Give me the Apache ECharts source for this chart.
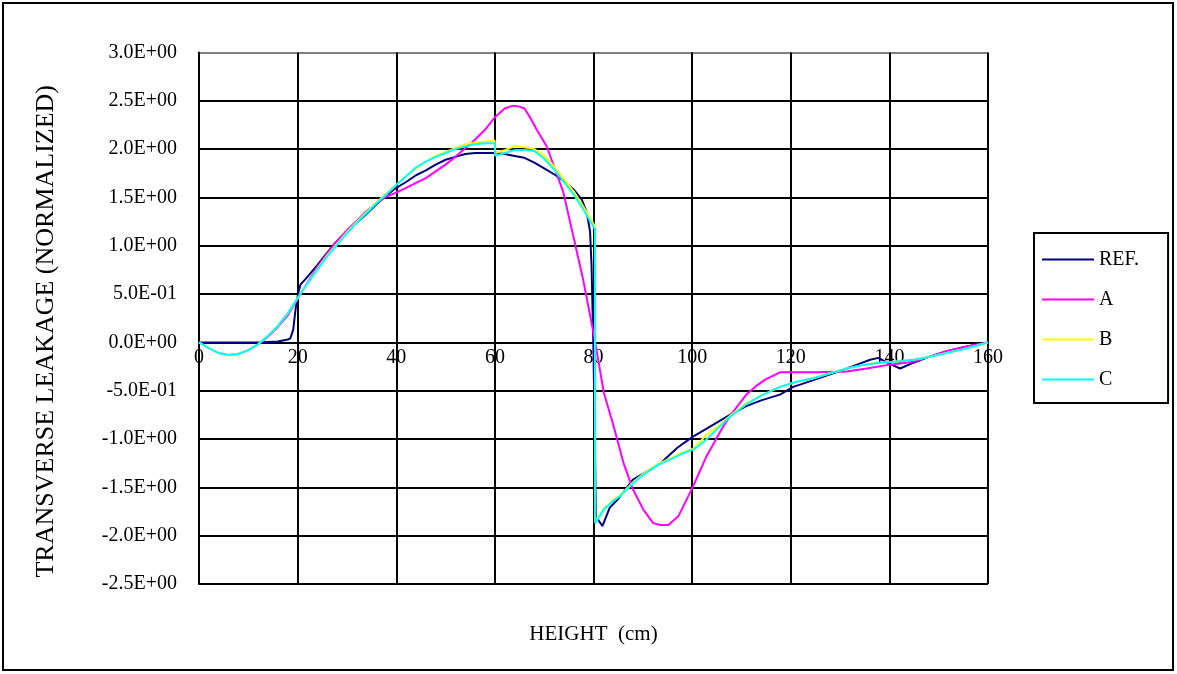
<!DOCTYPE html>
<html>
<head>
<meta charset="utf-8">
<script src="https://cdn.jsdelivr.net/npm/echarts@6/dist/echarts.min.js"></script>
<style>
  html, body { margin: 0; padding: 0; background: #fff; }
  #chart { width: 1177px; height: 674px; }
</style>
</head>
<body>
<div id="chart"></div>
<script>
// Transverse leakage profiles along the core height
const seriesNames = ['REF.', 'A', 'B', 'C'];
const xTicks = [0, 20, 40, 60, 80, 100, 120, 140, 160];
const yTicks = [-2.5, -2.0, -1.5, -1.0, -0.5, 0, 0.5, 1.0, 1.5, 2.0, 2.5, 3.0];

const refX = [0,4,8,12,16,17,18,18.5,19.1,19.6,20.1,20.6,21.5,24,26,28,30,32,34,36,38,40,42,44,46,48,50,52,54,56,58,60,62,64,66,68,70,72,74,76,77.6,78.6,79.3,79.6,80.0,80.5,81.8,83.3,85,88,90,93.6,97,100,102,105,108,111,114,117.8,120.5,124.6,128,131.4,134,136.1,137.8,139.5,142.2,144.9,148,151.6,155,158,160];
const refY = [0,0,0,0,0.01,0.02,0.03,0.04,0.13,0.35,0.51,0.60,0.65,0.80,0.93,1.05,1.15,1.24,1.33,1.43,1.52,1.60,1.66,1.73,1.78,1.84,1.89,1.92,1.95,1.96,1.96,1.96,1.95,1.93,1.91,1.86,1.80,1.74,1.67,1.58,1.48,1.35,1.15,0.8,-0.1,-1.8,-1.90,-1.71,-1.62,-1.42,-1.36,-1.25,-1.09,-0.98,-0.92,-0.83,-0.74,-0.66,-0.60,-0.54,-0.46,-0.39,-0.33,-0.27,-0.22,-0.18,-0.16,-0.21,-0.27,-0.21,-0.15,-0.09,-0.05,-0.02,0];

const aX = [0,2,4,6,8,10,12,14,16,18,20,22,24,26,28,30,32,34,36,38,40,42,44,46,48,50,52,54,56,58,60,62,63.7,65,66,67,68.5,70.5,72,73.9,75.9,77.9,80,82.1,84.1,86.1,88,90.1,92.1,93.5,95.2,97.2,100.2,102.9,106.3,108,111,113,115,117.8,120,125,131.4,135.4,140.1,144.9,148,151.6,155,158,160];
const aY = [0,-0.06,-0.11,-0.13,-0.12,-0.08,-0.02,0.06,0.16,0.28,0.45,0.62,0.78,0.92,1.05,1.16,1.26,1.36,1.44,1.51,1.55,1.60,1.65,1.70,1.77,1.84,1.92,2.01,2.10,2.20,2.33,2.42,2.45,2.44,2.42,2.34,2.20,2.03,1.82,1.55,1.10,0.65,0.10,-0.52,-0.87,-1.25,-1.52,-1.73,-1.87,-1.89,-1.89,-1.80,-1.49,-1.18,-0.87,-0.74,-0.54,-0.45,-0.38,-0.31,-0.31,-0.31,-0.30,-0.27,-0.23,-0.20,-0.15,-0.09,-0.05,-0.02,0];

const bX = [0,2,4,6,8,10,12,14,16,18,20,22,24,26,28,30,32,34,36,38,40,42,44,46,48,50,52,54,56,58,59.95,60.05,62,64,66,68,70,72,74,76,78,80.3,80.35,82.1,84,85.4,88,90.1,93,95.6,98,100.2,101.6,103,105,107.7,111,114,117.8,121,124.6,128,131.4,135,138.2,141,144.9,148,151.6,155,158,160];
const bY = [0,-0.06,-0.11,-0.13,-0.12,-0.08,-0.02,0.07,0.17,0.30,0.46,0.61,0.76,0.90,1.02,1.14,1.25,1.35,1.45,1.54,1.63,1.72,1.80,1.87,1.93,1.97,2.01,2.05,2.07,2.08,2.09,1.96,1.99,2.03,2.02,2.00,1.93,1.82,1.69,1.56,1.40,1.20,-1.85,-1.72,-1.63,-1.58,-1.45,-1.36,-1.26,-1.20,-1.14,-1.10,-1.03,-0.95,-0.88,-0.76,-0.63,-0.55,-0.46,-0.41,-0.37,-0.32,-0.27,-0.23,-0.21,-0.20,-0.18,-0.15,-0.11,-0.07,-0.03,0];

const cX = [0,2,4,6,8,10,12,14,16,18,20,22,24,26,28,30,32,34,36,38,40,42,44,46,48,50,52,54,56,58,59.95,60.05,62,64,66,68,70,72,74,76,78,80.3,80.35,82.1,84,85.4,88,90.1,93,95.6,98,100.2,101.6,103,105,107.7,111,114,117.8,121,124.6,128,131.4,135,138.2,141,144.9,148,151.6,155,158,160];
const cY = [0,-0.06,-0.11,-0.13,-0.12,-0.08,-0.02,0.07,0.17,0.30,0.46,0.61,0.75,0.89,1.01,1.13,1.24,1.34,1.44,1.53,1.63,1.72,1.81,1.87,1.92,1.96,2.00,2.03,2.05,2.06,2.06,1.93,1.96,1.99,1.99,1.98,1.90,1.79,1.66,1.53,1.37,1.17,-1.87,-1.73,-1.64,-1.59,-1.46,-1.37,-1.27,-1.21,-1.15,-1.11,-1.06,-1.00,-0.90,-0.77,-0.64,-0.55,-0.46,-0.41,-0.37,-0.32,-0.27,-0.23,-0.21,-0.20,-0.18,-0.15,-0.11,-0.07,-0.03,0];

const lineColors = ['#000080', '#FF00FF', '#FFFF00', '#00FFFF'];
const FONT = '"Liberation Serif", "Times New Roman", serif';

// plot rectangle in pixels
const PLOT_TOP = 52.5, PLOT_BOTTOM_GAP = 90, CANVAS_H = 674;

function pairs(xs, ys) { return xs.map((x, i) => [x, ys[i]]); }

// Excel-style scientific notation: 5.0E-01, 0.0E+00
function sci(v) {
  const s = Number(v).toExponential(1);
  const parts = s.split('e');
  const n = parseInt(parts[1], 10);
  return parts[0] + 'E' + (n < 0 ? '-' : '+') + String(Math.abs(n)).padStart(2, '0');
}

const seriesData = [pairs(refX, refY), pairs(aX, aY), pairs(bX, bY), pairs(cX, cY)];

// top border of the plot is a lighter grey line, the rest are black
const ySplitColors = yTicks.map((t, i) => i === yTicks.length - 1 ? '#808080' : '#000000');

// the horizontal axis sits on the zero line: shift it up from the bottom edge
const yMin = yTicks[0], yMax = yTicks[yTicks.length - 1];
const plotH = CANVAS_H - PLOT_TOP - PLOT_BOTTOM_GAP;
const zeroShift = -plotH * (0 - yMin) / (yMax - yMin);

const chart = echarts.init(document.getElementById('chart'), null, { renderer: 'canvas' });
chart.setOption({
  animation: false,
  backgroundColor: '#ffffff',
  textStyle: { fontFamily: FONT, color: '#000' },
  grid: { left: 199, top: PLOT_TOP, right: 189, bottom: PLOT_BOTTOM_GAP, containLabel: false, outerBoundsMode: 'none' },
  graphic: [{
    type: 'rect',
    shape: { x: 3, y: 3, width: 1170, height: 667 },
    style: { fill: 'none', stroke: '#000', lineWidth: 2 },
    silent: true
  }],
  legend: {
    orient: 'vertical',
    left: 1034,
    top: 233,
    data: seriesNames,
    icon: 'rect',
    itemWidth: 52,
    itemHeight: 2,
    itemGap: 19,
    padding: [16, 29, 13, 8],
    borderColor: '#000',
    borderWidth: 2,
    backgroundColor: '#fff',
    textStyle: { fontFamily: FONT, fontSize: 20, color: '#000', lineHeight: 21 },
    selectedMode: false
  },
  xAxis: {
    type: 'value',
    min: xTicks[0],
    max: xTicks[xTicks.length - 1],
    interval: 20,
    offset: zeroShift,
    name: 'HEIGHT  (cm)',
    nameLocation: 'middle',
    nameGap: 282,
    nameTextStyle: { fontFamily: FONT, fontSize: 21, color: '#000' },
    axisLine: { onZero: false, lineStyle: { color: '#000', width: 2 } },
    axisTick: { show: false },
    axisLabel: { fontFamily: FONT, fontSize: 20, color: '#000', margin: 5 },
    splitLine: { show: true, lineStyle: { color: '#000', width: 2 } }
  },
  yAxis: {
    type: 'value',
    min: yMin,
    max: yMax,
    interval: 0.5,
    name: 'TRANSVERSE LEAKAGE (NORMALIZED)',
    nameLocation: 'middle',
    nameGap: 140,
    nameTextStyle: { fontFamily: FONT, fontSize: 26, color: '#000', padding: [0, 26, 0, 0] },
    axisLine: { show: true, onZero: false, lineStyle: { color: '#000', width: 2 } },
    axisTick: { show: false },
    axisLabel: { fontFamily: FONT, fontSize: 20, color: '#000', margin: 22, formatter: sci },
    splitLine: { show: true, lineStyle: { color: ySplitColors, width: 2 } }
  },
  series: seriesNames.map((name, i) => ({
    name: name,
    type: 'line',
    data: seriesData[i],
    symbol: 'none',
    smooth: false,
    lineStyle: { color: lineColors[i], width: 2 },
    itemStyle: { color: lineColors[i] },
    z: 3 + i
  }))
});
</script>
</body>
</html>
